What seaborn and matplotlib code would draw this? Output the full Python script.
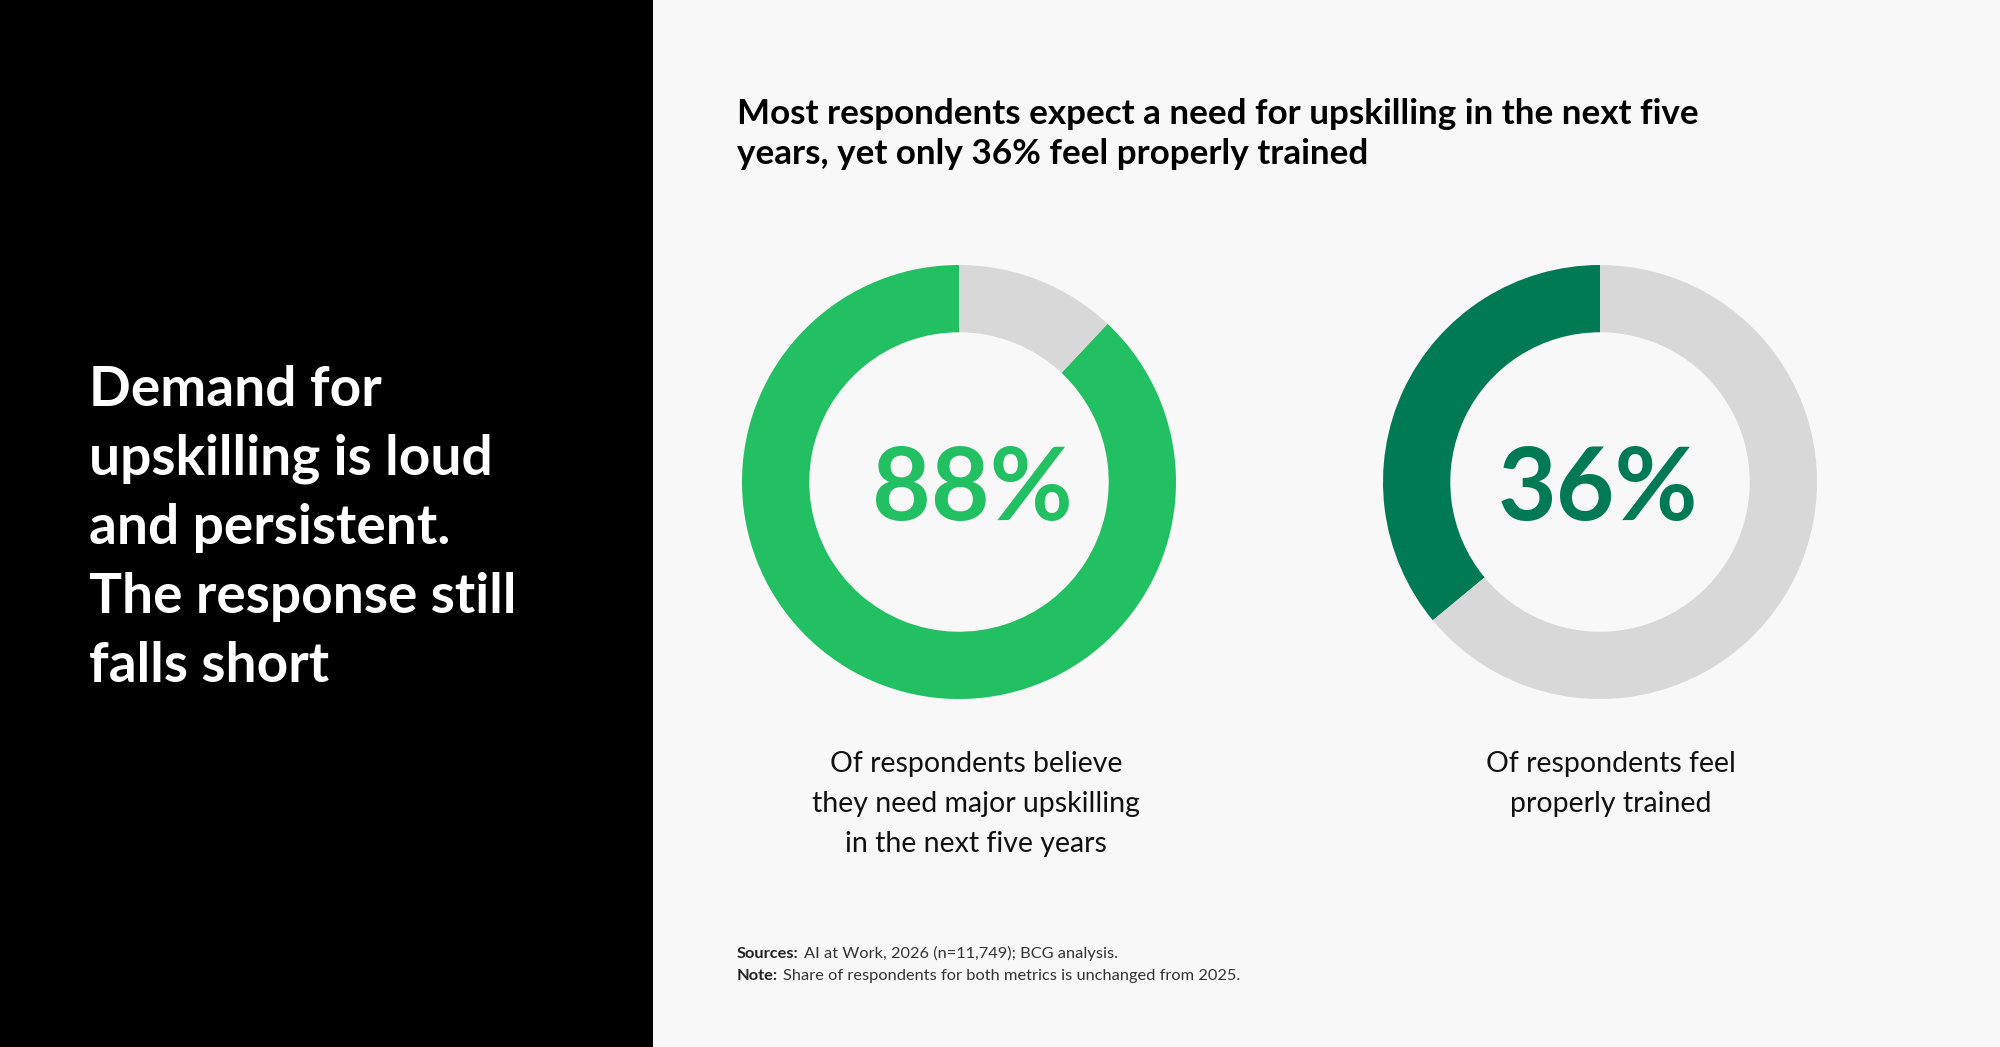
import seaborn as sns
import matplotlib.pyplot as plt

# data
shares = [88, 36]
share_labels = ["88%", "36%"]
captions = [
    ["Of respondents believe", "they need major upskilling", "in the next five years"],
    ["Of respondents feel", "properly trained"],
]
ring_colors = ["#22BF63", "#007A53"]
rest_color = "#D8D8D8"

headline = ["Demand for", "upskilling is loud", "and persistent.", "The response still", "falls short"]
title_lines = [
    "Most respondents expect a need for upskilling in the next five",
    "years, yet only 36% feel properly trained",
]
footnotes = [
    ("Sources:", "AI at Work, 2026 (n=11,749); BCG analysis."),
    ("Note:", "Share of respondents for both metrics is unchanged from 2025."),
]

W, H = 2000, 1047
sns.set_theme(style="white")
plt.rcParams["font.family"] = ["Lato", "DejaVu Sans"]

fig = plt.figure(figsize=(W / 100, H / 100), dpi=100)
fig.patch.set_facecolor("#F8F8F8")


def fx(x):
    return x / W


def fy(y):
    return 1 - y / H


# black side panel
fig.patches.append(plt.Rectangle((0, 0), fx(653), 1, transform=fig.transFigure,
                                 facecolor="black", edgecolor="none", zorder=0))

for i, line in enumerate(headline):
    fig.text(fx(89), fy(406 + i * 69), line, color="white", fontsize=39.6,
             fontweight="bold", va="baseline", ha="left")

for i, line in enumerate(title_lines):
    fig.text(fx(737), fy(124 + i * 40), line, fontsize=25.2, fontweight="bold",
             color="black", va="baseline")

centers = [959, 1600]
label_x = [972, 1598]
radius = 217
for i, (val, lab, cap, col) in enumerate(zip(shares, share_labels, captions, ring_colors)):
    cx, cy = centers[i], 482
    ax = fig.add_axes([fx(cx - radius), fy(cy + radius), radius * 2 / W, radius * 2 / H])
    ax.pie([val, 100 - val], colors=[col, rest_color], startangle=90, counterclock=True,
           radius=1, wedgeprops=dict(width=0.31, edgecolor="none"))
    ax.set_xlim(-1, 1)
    ax.set_ylim(-1, 1)
    ax.set_aspect("equal")
    ax.axis("off")
    fig.text(fx(label_x[i]), fy(520), lab, fontsize=73, fontweight="bold",
             color=col, ha="center", va="baseline")
    for j, line in enumerate(cap):
        fig.text(fx(cx + 17 + i * -6), fy(772 + j * 40), line, fontsize=20.5,
                 color="#111111", ha="center", va="baseline")

# footnotes: bold lead-in followed by regular text
renderer = fig.canvas.get_renderer()
for k, (lead, rest) in enumerate(footnotes):
    y = fy(958 + k * 22)
    t = fig.text(fx(737), y, lead, fontsize=11.8, fontweight="bold", color="#222222", va="baseline")
    bb = t.get_window_extent(renderer=renderer)
    fig.text(fx(bb.x1 + 5), y, rest, fontsize=11.8, color="#333333", va="baseline")

fig.savefig("out.png", dpi=100, facecolor=fig.get_facecolor())
